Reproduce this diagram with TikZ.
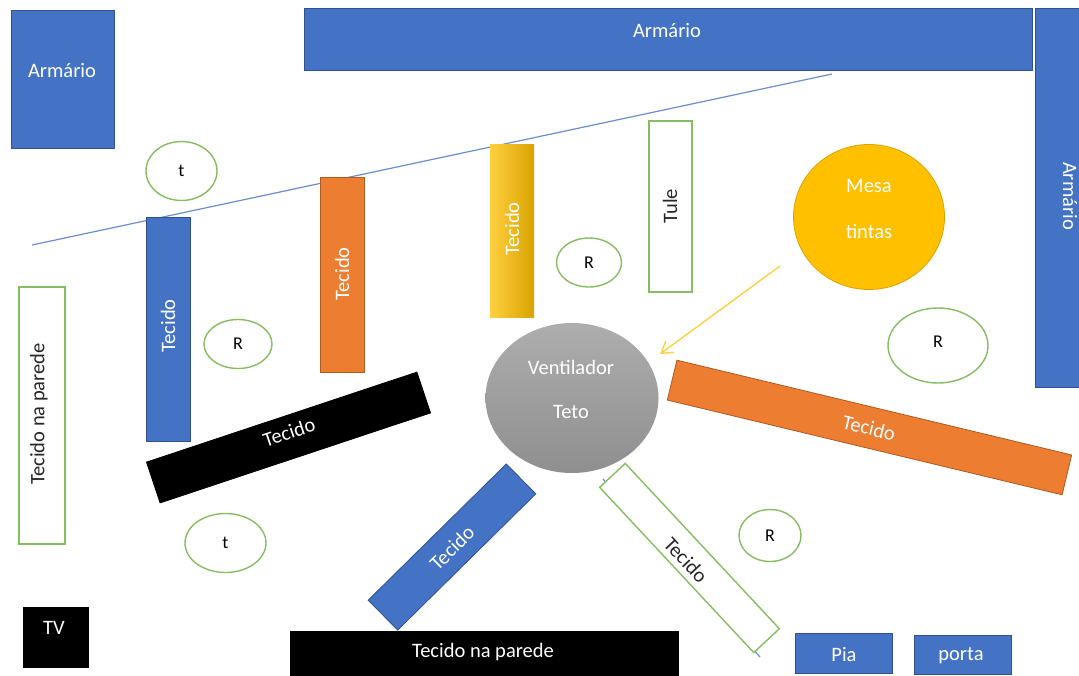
\documentclass[tikz,border=0pt]{standalone}
\usepackage{fontspec}
\setmainfont{Carlito}
\usetikzlibrary{shapes.geometric,shadings,arrows.meta}
\definecolor{bluefill}{HTML}{4472C4}
\definecolor{blueline}{HTML}{2F528F}
\definecolor{orangefill}{HTML}{ED7D31}
\definecolor{orangeline}{HTML}{AE5A21}
\definecolor{greenline}{HTML}{86BC62}
\definecolor{goldfill}{HTML}{FFC000}
\definecolor{goldline}{HTML}{D9A300}
\tikzset{
  box/.style={rectangle,inner sep=0pt,line width=0.8pt},
  bluebox/.style={box,fill=bluefill,draw=blueline},
  orangebox/.style={box,fill=orangefill,draw=orangeline},
  blackbox/.style={box,fill=black,draw=black},
  whitebox/.style={box,fill=white,draw=greenline,line width=1.4pt},
  goldbox/.style={box,left color=goldfill!75!white,middle color=goldfill,right color=goldline},
  oval/.style={ellipse,inner sep=0pt,fill=white,draw=greenline,line width=1.4pt,font=\fontsize{18}{21}\selectfont,text=black},
  lab/.style={inner sep=0pt,font=\fontsize{20.5}{24}\selectfont,text=white},
  dlab/.style={lab,text=black!85},
  bluethin/.style={draw=bluefill!80!white,line width=1.2pt},
  goldarrow/.style={draw=goldfill!75!white,line width=1.4pt,-{Straight Barb[length=11pt,width=14pt]}}
}
\begin{document}
\begin{tikzpicture}[x=1pt,y=-1pt]
\useasboundingbox (0,0) rectangle (1079,675);
% thin lines behind the shapes
\coordinate (wallA) at (32,245);
\coordinate (wallB) at (832,74);
\draw[bluethin] (wallA) -- (wallB);
\coordinate (thinA) at (603,479);
\coordinate (thinB) at (760,657);
\draw[bluethin] (thinA) -- (thinB);
% cupboards
\node[bluebox,minimum width=103pt,minimum height=138pt] (arm1) at (62.5,79) {};
\node[lab] (arm1t) at (62,71) {Armário};
\node[bluebox,minimum width=728pt,minimum height=62pt] (arm2) at (668,39) {};
\node[lab] (arm2t) at (667,31) {Armário};
\node[bluebox,minimum width=70pt,minimum height=379pt] (arm3) at (1070,197.5) {};
\node[lab,rotate=-90] (arm3t) at (1070,196) {Armário};
% ovals
\node[oval,minimum width=71pt,minimum height=59pt] (t1) at (181.5,171) {t};
\node[oval,minimum width=65pt,minimum height=49pt] (r1) at (589,262.5) {R};
\node[oval,minimum width=68pt,minimum height=49pt] (r2) at (238,344) {R};
\node[oval,minimum width=100pt,minimum height=75pt] (r3) at (938,345.5) {\raisebox{8pt}{R}};
\node[oval,minimum width=62pt,minimum height=52pt] (r4) at (770,535.5) {\raisebox{-3pt}{R}};
\node[oval,minimum width=81pt,minimum height=59pt] (t2) at (225.5,543) {t};
% vertical fabrics
\node[bluebox,minimum width=44pt,minimum height=224pt] (tecA) at (168,329) {};
\node[lab,rotate=90] at (168,326) {Tecido};
\node[orangebox,minimum width=44pt,minimum height=195pt] (tecB) at (342,274.5) {};
\node[lab,rotate=90] at (342,274) {Tecido};
\node[goldbox,minimum width=44pt,minimum height=173pt] (tecC) at (512,230.5) {};
\node[lab,rotate=90] at (512,229) {Tecido};
\node[whitebox,minimum width=43pt,minimum height=171pt] (tule) at (670.5,206.5) {};
\node[dlab,rotate=90] at (670,206) {Tule};
\node[whitebox,minimum width=46pt,minimum height=257pt] (parede1) at (42,415.5) {};
\node[dlab,rotate=90] at (39,414) {Tecido na parede};
% round table
\node[ellipse,inner sep=0pt,fill=goldfill,draw=goldline,line width=0.8pt,minimum width=151pt,minimum height=145pt] (mesa) at (869,217) {};
\node[lab] (mesa1) at (869,186) {Mesa};
\node[lab] (mesa2) at (869,231) {tintas};
% fan
\node[ellipse,inner sep=0pt,top color=black!32,bottom color=black!44,minimum width=173pt,minimum height=150pt] (fan) at (572,398) {};
\node[lab] (fan1) at (571,367) {Ventilador};
\node[lab] (fan2) at (571,412) {Teto};
% arrow
\coordinate (arrA) at (780,266);
\coordinate (arrB) at (660,354);
\draw[goldarrow] (arrA) -- (arrB);
% rotated fabrics
\node[blackbox,minimum width=285pt,minimum height=43pt,rotate=18.4] (tecD) at (288.5,437.5) {};
\node[lab,rotate=18.4] at (289,432) {Tecido};
\node[orangebox,minimum width=406pt,minimum height=41pt,rotate=-13.5] (tecE) at (869.5,427.5) {};
\node[lab,rotate=-13.5] at (869,428) {Tecido};
\node[bluebox,minimum width=194pt,minimum height=42pt,rotate=44.6] (tecF) at (452,547) {};
\node[lab,rotate=44.6] at (452,548) {Tecido};
\node[whitebox,minimum width=226pt,minimum height=35pt,rotate=-47] (tecG) at (689.5,558) {};
\node[dlab,rotate=-47] at (686,560) {Tecido};
% bottom row
\node[blackbox,minimum width=65pt,minimum height=60pt] (tv) at (55.5,637) {};
\node[lab] at (54,628) {TV};
\node[blackbox,minimum width=388pt,minimum height=44pt] (parede2) at (484,653) {};
\node[lab] at (483,652) {Tecido na parede};
\node[bluebox,minimum width=97pt,minimum height=40pt] (pia) at (843.5,653) {};
\node[lab] at (844,655) {Pia};
\node[bluebox,minimum width=97pt,minimum height=39pt] (porta) at (962.5,654.5) {};
\node[lab] at (961,656) {porta};
\end{tikzpicture}
\end{document}
